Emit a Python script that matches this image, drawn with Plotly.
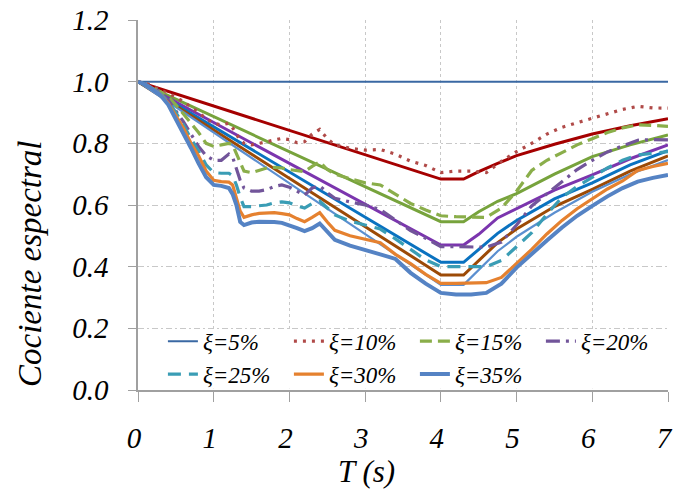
import plotly.graph_objects as go

# Periods (s)
T = [0, 0.1, 0.2, 0.3, 0.4, 0.5, 0.6, 0.7, 0.8, 0.9, 1.0, 1.1, 1.2, 1.25, 1.3, 1.35, 1.4,
     1.5, 1.6, 1.7, 1.8, 1.9, 2.0, 2.1, 2.2, 2.3, 2.4, 2.5, 2.6, 2.8, 3.0, 3.2, 3.4, 3.6,
     3.8, 4.0, 4.2, 4.4, 4.6, 4.8, 5.0, 5.2, 5.4, 5.6, 5.8, 6.0, 6.2, 6.4, 6.6, 6.8, 7.0]

x_tickvals = [0, 1, 2, 3, 4, 5, 6, 7]
y_tickvals = [0, 0.2, 0.4, 0.6, 0.8, 1.0, 1.2]

T5 = [0, 7]
xi5 = [1.0, 1.0]

xi10 = [1.0, 0.995, 0.985, 0.972, 0.962, 0.95, 0.935, 0.918, 0.9, 0.88, 0.865, 0.86, 0.865, 0.85,
        0.83, 0.81, 0.8, 0.795, 0.8, 0.805, 0.812, 0.816, 0.812, 0.802, 0.805, 0.83, 0.845, 0.815,
        0.795, 0.784, 0.778, 0.78, 0.765, 0.742, 0.728, 0.705, 0.71, 0.71, 0.705, 0.742, 0.773,
        0.8, 0.83, 0.852, 0.867, 0.882, 0.897, 0.91, 0.92, 0.915, 0.914]

xi15 = [1.0, 0.99, 0.98, 0.967, 0.95, 0.925, 0.895, 0.865, 0.835, 0.8, 0.79, 0.795, 0.8, 0.795,
        0.765, 0.735, 0.71, 0.705, 0.712, 0.72, 0.722, 0.72, 0.715, 0.712, 0.708, 0.725, 0.74,
        0.715, 0.7, 0.685, 0.672, 0.665, 0.635, 0.605, 0.584, 0.565, 0.562, 0.562, 0.56, 0.59,
        0.645, 0.712, 0.745, 0.77, 0.795, 0.815, 0.835, 0.85, 0.86, 0.858, 0.855]

xi20 = [1.0, 0.99, 0.98, 0.965, 0.94, 0.905, 0.87, 0.83, 0.79, 0.76, 0.745, 0.745, 0.765, 0.755,
        0.715, 0.68, 0.655, 0.645, 0.645, 0.65, 0.66, 0.665, 0.658, 0.645, 0.632, 0.655, 0.662,
        0.64, 0.622, 0.61, 0.6, 0.585, 0.55, 0.517, 0.492, 0.465, 0.465, 0.465, 0.463, 0.48,
        0.535, 0.597, 0.637, 0.675, 0.715, 0.745, 0.772, 0.792, 0.81, 0.812, 0.811]

xi25 = [1.0, 0.99, 0.978, 0.96, 0.935, 0.9, 0.86, 0.815, 0.775, 0.73, 0.705, 0.703, 0.703, 0.695,
        0.665, 0.625, 0.595, 0.595, 0.597, 0.6, 0.607, 0.61, 0.607, 0.597, 0.59, 0.605, 0.613,
        0.59, 0.568, 0.548, 0.536, 0.522, 0.49, 0.455, 0.422, 0.4, 0.4, 0.4, 0.4, 0.42, 0.465,
        0.51, 0.57, 0.625, 0.66, 0.69, 0.72, 0.745, 0.762, 0.768, 0.773]

xi30 = [1.0, 0.99, 0.977, 0.958, 0.93, 0.89, 0.85, 0.8, 0.76, 0.71, 0.68, 0.676, 0.674, 0.665,
        0.62, 0.58, 0.56, 0.568, 0.573, 0.575, 0.575, 0.572, 0.568, 0.556, 0.546, 0.56, 0.575,
        0.545, 0.518, 0.5, 0.49, 0.478, 0.44, 0.41, 0.375, 0.346, 0.346, 0.346, 0.348, 0.365,
        0.41, 0.456, 0.506, 0.55, 0.588, 0.62, 0.652, 0.678, 0.712, 0.725, 0.735]

xi35 = [1.0, 0.99, 0.975, 0.955, 0.925, 0.88, 0.835, 0.785, 0.735, 0.69, 0.665, 0.662, 0.655,
        0.635, 0.6, 0.545, 0.535, 0.543, 0.546, 0.546, 0.545, 0.542, 0.535, 0.525, 0.515, 0.525,
        0.54, 0.515, 0.487, 0.468, 0.455, 0.44, 0.425, 0.38, 0.345, 0.315, 0.31, 0.31, 0.315,
        0.345, 0.397, 0.443, 0.485, 0.527, 0.565, 0.597, 0.628, 0.655, 0.676, 0.688, 0.697]

# Smoothed (unlabelled) curves
Ts = [0, 4.0, 4.3, 4.5, 4.75, 5.0, 5.5, 6.0, 6.5, 7.0]
s_red = [1.0, 0.684, 0.684, 0.708, 0.735, 0.760, 0.797, 0.830, 0.857, 0.880]
s_green = [1.0, 0.546, 0.546, 0.578, 0.612, 0.637, 0.700, 0.757, 0.795, 0.827]
s_purple = [1.0, 0.470, 0.470, 0.505, 0.558, 0.588, 0.648, 0.698, 0.750, 0.795]
s_blue = [1.0, 0.414, 0.414, 0.455, 0.508, 0.550, 0.620, 0.672, 0.730, 0.776]
s_brown = [1.0, 0.373, 0.373, 0.420, 0.478, 0.522, 0.595, 0.651, 0.710, 0.759]
s_light = [1.0, 0.341, 0.341, 0.390, 0.450, 0.497, 0.575, 0.643, 0.700, 0.746]

labels = ["ξ=5%", "ξ=10%", "ξ=15%", "ξ=20%", "ξ=25%", "ξ=30%", "ξ=35%"]

FONT = "Liberation Serif"

fig = go.Figure()

smooth = [(s_red, "#A50000", 3), (s_green, "#77A33C", 3), (s_purple, "#7B35AE", 3),
          (s_blue, "#0A72C0", 3), (s_brown, "#9C4A06", 3), (s_light, "#5B8FD0", 2.2)]
for vals, col, w in smooth:
    fig.add_trace(go.Scatter(x=Ts, y=vals, mode="lines", showlegend=False,
                             line=dict(color=col, width=w), hoverinfo="skip"))

series = [
    (T5, xi5, "#3A68A3", 2, "solid"),
    (T, xi10, "#B04A48", 3.2, "3px,6px"),
    (T, xi15, "#8AAE4A", 3.2, "12px,6px"),
    (T, xi20, "#72559A", 3.2, "14px,6px,3px,6px"),
    (T, xi25, "#3A9DB5", 3.2, "13px,8px"),
    (T, xi30, "#E5812F", 3.2, "solid"),
    (T, xi35, "#5583C4", 4, "solid"),
]
for (xs, ys, col, w, dash), name in zip(series, labels):
    fig.add_trace(go.Scatter(x=xs, y=ys, mode="lines", name=name,
                             line=dict(color=col, width=w, dash=dash)))

axis_font = dict(family=FONT, size=29, color="black", style="italic")

fig.update_layout(
    width=674, height=490, autosize=False,
    margin=dict(l=138, r=6, t=20, b=100, autoexpand=False),
    paper_bgcolor="white", plot_bgcolor="white",
    xaxis=dict(range=[0, 7], tickvals=x_tickvals, ticks="outside",
               ticklen=10, tickcolor="#A0A0A0", showline=True, linecolor="#A0A0A0",
               linewidth=1.5, showgrid=True, gridcolor="#C8C8C8", griddash="3px,3px",
               gridwidth=1, zeroline=False, tickfont=axis_font, ticklabelstandoff=11,
               ticklabelshift=-4, automargin=False, ticklabeloverflow="allow"),
    yaxis=dict(range=[0, 1.2], tickvals=y_tickvals, tickformat=".1f",
               ticks="outside", ticklen=8, tickcolor="#A0A0A0", showline=True,
               linecolor="#A0A0A0", linewidth=1.5, showgrid=True, gridcolor="#C8C8C8",
               griddash="6px,3px,2px,3px", gridwidth=1, zeroline=False, tickfont=axis_font,
               ticklabelstandoff=14, automargin=False, ticklabeloverflow="allow"),
    legend=dict(orientation="h", x=0.047, y=0.19, xanchor="left", yanchor="top",
                bgcolor="rgba(0,0,0,0)", borderwidth=0, entrywidth=81,
                entrywidthmode="pixels",
                font=dict(family=FONT, size=23, color="black", style="italic"),
                tracegroupgap=0, itemwidth=30),
    shapes=[dict(type="rect", xref="x", yref="y", x0=0.3, x1=6.99, y0=0.004, y1=0.192,
                 fillcolor="white", line=dict(width=0), layer="between")],
    annotations=[
        dict(text="T (s)", xref="paper", yref="paper", x=0.432, y=-0.219,
             xanchor="center", yanchor="middle", showarrow=False,
             font=dict(family=FONT, size=31, color="black", style="italic")),
        dict(text="Cociente espectral", xref="paper", yref="paper", x=-0.204, y=0.343,
             xanchor="center", yanchor="middle", showarrow=False, textangle=-90,
             font=dict(family=FONT, size=33, color="black", style="italic")),
    ],
)

fig.write_html("out.html", config={"displayModeBar": False},
               post_script="document.body.style.margin='0';document.body.style.padding='0';")
